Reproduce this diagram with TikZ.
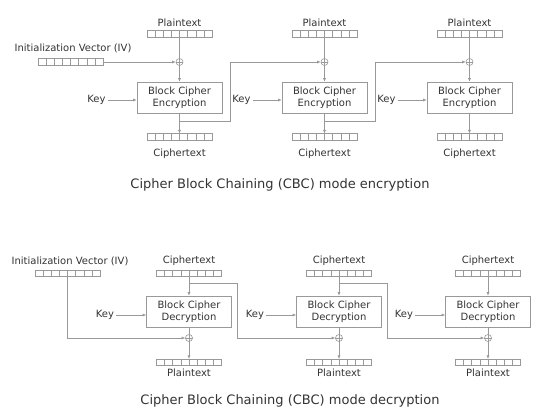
\documentclass[tikz,border=0pt]{standalone}
\usepackage{fontspec}
\setmainfont{DejaVu Sans}
\usetikzlibrary{arrows.meta,calc}
\tikzset{
    lbl/.style={font=\fontsize{10}{12}\selectfont, text=black!80, inner sep=0pt},
    caption/.style={font=\fontsize{13}{15}\selectfont, text=black!80, inner sep=0pt},
    cellblock/.style={draw=gray!80, line width=0.6pt, minimum width=65pt, minimum height=6.5pt, inner sep=0pt},
    cipherbox/.style={draw=gray!80, line width=0.6pt, minimum width=85pt, minimum height=31pt, inner sep=0pt,
        align=center, font=\fontsize{10}{12}\selectfont, text=black!80},
    xor/.style={circle, draw=gray!80, line width=0.6pt, minimum size=7pt, inner sep=0pt},
    wire/.style={draw=gray!80, line width=0.6pt},
    flow/.style={wire, -{Latex[length=3.5pt,width=3pt]}},
}
\newcommand\CellBlock[3]{%
    \node[cellblock] (#1) at (#2,#3) {};
    \foreach \k in {1,...,7}
        \draw[wire] ($(#1.south west)!\k/8!(#1.south east)$) -- ($(#1.north west)!\k/8!(#1.north east)$);
}
\newcommand\XorNode[3]{%
    \node[xor] (#1) at (#2,#3) {};
    \draw[wire] (#1.north) -- (#1.south) (#1.west) -- (#1.east);
}

\begin{document}
\begin{tikzpicture}[x=1pt,y=-1pt]
    \useasboundingbox (0,0) rectangle (555,419);
    % encryption
    \node[lbl] (ivlabel) at (73,48) {Initialization Vector (IV)};
    \CellBlock{iv}{70.5}{62}
    \foreach \i/\x in {1/179.5,2/324.5,3/469.5} {
        \node[lbl] (ptlabel\i) at (\x,23) {Plaintext};
        \CellBlock{pt\i}{\x}{34}
        \XorNode{ex\i}{\x}{62}
        \node[cipherbox] (enc\i) at (\x,97.5) {Block Cipher\\Encryption};
        \CellBlock{ct\i}{\x}{137}
        \node[lbl] (ctlabel\i) at (\x,154) {Ciphertext};
        \node[lbl, anchor=east] (ekey\i) at ([xshift=-31pt,yshift=-2.5pt]enc\i.west) {Key};
        \coordinate (ebranch\i) at (\x,121);
        \draw[wire] (pt\i) -- (ex\i);
        \draw[flow] (ex\i) -- (enc\i);
        \draw[flow] (enc\i) -- (ct\i);
        \draw[flow] ([xshift=2pt]ekey\i.east) -- (ekey\i -| enc\i.west);
    }
    \draw[flow] (iv) -- (ex1);
    \draw[flow] (ebranch1) -- (230,121) |- (ex2);
    \draw[flow] (ebranch2) -- (375,121) |- (ex3);
    \node[caption] (enccaption) at (280,185) {Cipher Block Chaining (CBC) mode encryption};
    % decryption
    \node[lbl] (divlabel) at (70,261) {Initialization Vector (IV)};
    \CellBlock{div}{67.5}{273.5}
    \foreach \i/\x in {1/189,2/339,3/488} {
        \node[lbl] (dctlabel\i) at (\x,261) {Ciphertext};
        \CellBlock{dct\i}{\x}{273.5}
        \node[cipherbox] (dec\i) at (\x,311.5) {Block Cipher\\Decryption};
        \XorNode{dx\i}{\x}{338}
        \CellBlock{dpt\i}{\x}{362.5}
        \node[lbl] (dptlabel\i) at (\x,373) {Plaintext};
        \node[lbl, anchor=east] (dkey\i) at ([xshift=-32pt,yshift=-3.5pt]dec\i.west) {Key};
        \coordinate (dbranch\i) at (\x,283);
        \draw[flow] (dct\i) -- (dec\i);
        \draw[wire] (dec\i) -- (dx\i);
        \draw[flow] (dx\i) -- (dpt\i);
        \draw[flow] ([xshift=2pt]dkey\i.east) -- (dkey\i -| dec\i.west);
    }
    \draw[flow] (div.south) |- (dx1);
    \draw[flow] (dbranch1) -- (237,283) |- (dx2);
    \draw[flow] (dbranch2) -- (387,283) |- (dx3);
    \node[caption] (deccaption) at (290,401) {Cipher Block Chaining (CBC) mode decryption};
\end{tikzpicture}
\end{document}
